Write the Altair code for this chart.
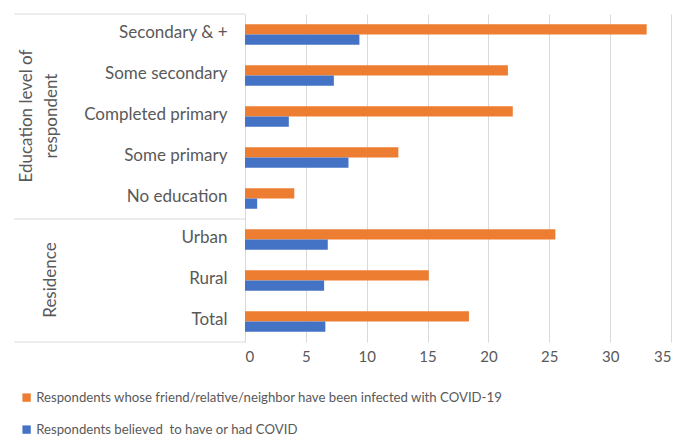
import altair as alt
import pandas as pd

categories = ["Secondary & +", "Some secondary", "Completed primary", "Some primary",
              "No education", "Urban", "Rural", "Total"]
series_names = ["Respondents whose friend/relative/neighbor have been infected with COVID-19",
                "Respondents believed \u00a0to have or had COVID"]
friend_values = [33.0, 21.6, 22.0, 12.6, 4.05, 25.5, 15.1, 18.4]
self_values = [9.4, 7.3, 3.6, 8.5, 1.0, 6.8, 6.5, 6.6]
x_ticks = [0, 5, 10, 15, 20, 25, 30, 35]
group_labels = [["Education level of", "respondent"], ["Residence"]]

rows = []
for c, a, b in zip(categories, friend_values, self_values):
    rows.append({"cat": c, "series": series_names[0], "value": a})
    rows.append({"cat": c, "series": series_names[1], "value": b})
df = pd.DataFrame(rows)

W, H = 426, 328
FONT = "Lato"
GREY = "#595959"

bars = alt.Chart(df).mark_bar().encode(
    y=alt.Y("cat:N", sort=categories, title=None,
            scale=alt.Scale(paddingInner=0.5, paddingOuter=0.25),
            axis=alt.Axis(ticks=False, domain=True, domainColor="#d9d9d9",
                          labelPadding=18, labelFontSize=17, labelColor=GREY,
                          labelFont=FONT, labelLimit=300, labelOffset=-2)),
    yOffset=alt.YOffset("series:N", sort=series_names),
    x=alt.X("value:Q", title=None,
            scale=alt.Scale(domain=[0, 35], nice=False),
            axis=alt.Axis(values=x_ticks, grid=True, gridColor="#d9d9d9",
                          domain=False, ticks=False, labelPadding=7,
                          labelFontSize=15, labelColor=GREY, labelFont=FONT)),
    color=alt.Color("series:N", sort=series_names,
                    scale=alt.Scale(domain=series_names, range=["#ED7D31", "#4472C4"]),
                    legend=alt.Legend(title=None, orient="none", legendX=-225, legendY=377,
                                      direction="vertical", symbolType="square",
                                      symbolSize=70, symbolStrokeWidth=0, symbolOffset=0,
                                      labelOffset=3,
                                      labelFontSize=13.2, labelColor=GREY, labelFont=FONT,
                                      labelLimit=700, rowPadding=18)),
)

lines_df = pd.DataFrame({"k": [0]})
box_lines = [
    alt.Chart(lines_df).mark_rule(color="#d9d9d9", strokeWidth=1).encode(
        x=alt.value(-231), x2=alt.value(0), y=alt.value(yv))
    for yv in [0, H * 5 / 8, H]
]

edu_label = alt.Chart(lines_df).mark_text(
    angle=270, fontSize=17, color=GREY, font=FONT, align="center", baseline="middle",
    lineHeight=25).encode(
    x=alt.value(-218), y=alt.value(102), text=alt.value(group_labels[0]))
res_label = alt.Chart(lines_df).mark_text(
    angle=270, fontSize=17, color=GREY, font=FONT, align="center", baseline="middle").encode(
    x=alt.value(-194), y=alt.value(266), text=alt.value(group_labels[1][0]))

chart = alt.layer(bars, *box_lines, edu_label, res_label).properties(
    width=W, height=H
).configure_view(stroke=None)

chart.save("out.html", embed_options={"renderer": "svg", "actions": False})
